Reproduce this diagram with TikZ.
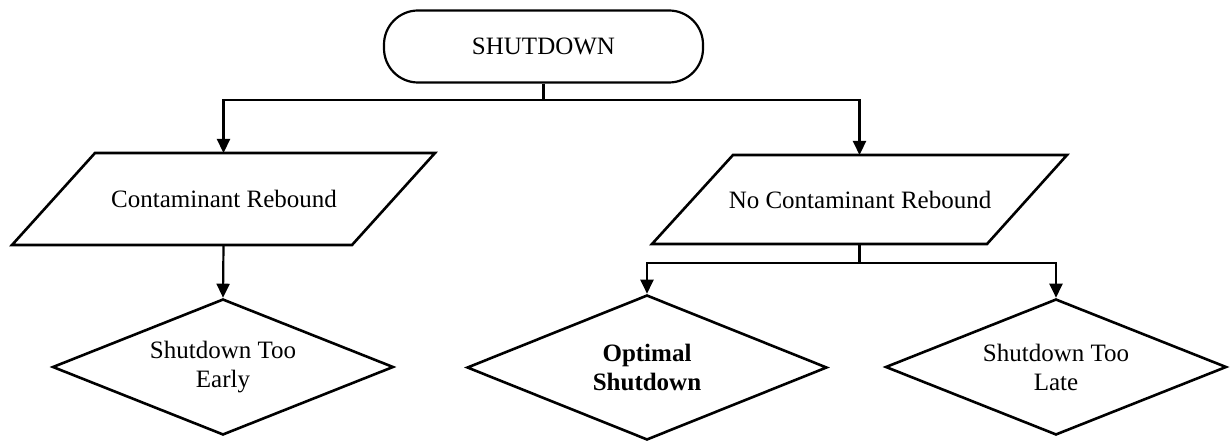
\documentclass[tikz,border=0pt]{standalone}
\usepackage{fontspec}
\setmainfont{Liberation Serif}
\usetikzlibrary{shapes.geometric,arrows.meta}
\begin{document}
\begin{tikzpicture}[x=1pt,y=-1pt,
  every node/.style={font=\fontsize{25}{29}\selectfont},
  shapeline/.style={draw=black,line width=2.6pt,line join=miter},
  termbox/.style={draw=black,line width=2.2pt,rectangle,rounded corners=34pt,minimum width=319pt,minimum height=72pt,inner sep=0pt},
  decbox/.style={shapeline,diamond,aspect=2.5,inner sep=0pt,align=center},
  conn/.style={draw=black,line width=2.2pt},
  arr/.style={conn,-{Triangle[length=14pt,width=13pt]}}
]
\useasboundingbox (0,0) rectangle (1230,443);
\node[termbox] (term) at (543.5,46.5) {SHUTDOWN};
% parallelograms
\draw[shapeline] (95,153) -- (435,153) -- (352,245) -- (12,245) -- cycle;
\node (cr) at (224,199) {Contaminant Rebound};
\coordinate (crtop) at (223.5,153);
\coordinate (crbot) at (223.5,245);
\draw[shapeline] (733,155) -- (1067,155) -- (987,244) -- (652,244) -- cycle;
\node (ncr) at (860,199.5) {No Contaminant Rebound};
\coordinate (ncrtop) at (859.5,155);
\coordinate (ncrbot) at (859.5,244);
\node[decbox,minimum width=341pt,minimum height=136pt] (early) at (223,367) {Shutdown Too\\Early};
\node[decbox,minimum width=360pt,minimum height=145pt,font=\fontsize{25}{29}\selectfont\bfseries] (opt) at (647,367.5) {Optimal\\Shutdown};
\node[decbox,minimum width=341pt,minimum height=136pt] (late) at (1056,367) {Shutdown Too\\Late};
\coordinate (j1) at (543.5,100);
\coordinate (j2) at (859.5,263);
\draw[conn] (term.south) -- (j1);
\draw[arr] (j1) -| (crtop);
\draw[arr] (j1) -| (ncrtop);
\draw[arr] (crbot) -- (early.north);
\draw[conn] (ncrbot) -- (j2);
\draw[arr] (j2) -| (opt.north);
\draw[arr] (j2) -| (late.north);
\end{tikzpicture}
\end{document}
